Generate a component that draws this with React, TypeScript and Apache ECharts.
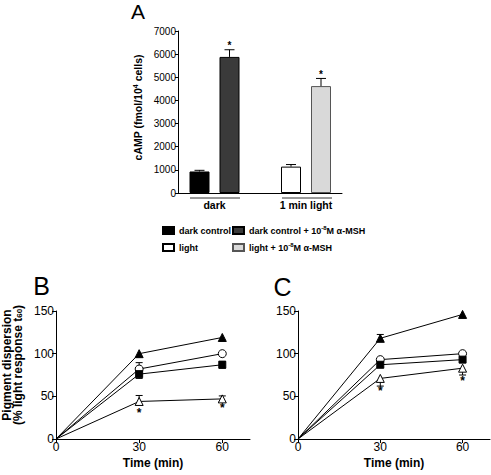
import React, { useEffect, useRef } from 'react';
import * as echarts from 'echarts';

const FONT = '"Liberation Sans", Arial, Helvetica, sans-serif';

// ---------- Panel A data ----------
const groupCategories = ['dark', '1 min light'];
const barNames = ['dark control', 'dark control + MSH', 'light', 'light + MSH'];
const legendLabels: Record<string, string> = {
  'dark control': 'dark control',
  'dark control + MSH': 'dark control + 10{sup|-8}M α-MSH',
  light: 'light',
  'light + MSH': 'light + 10{sup|-8}M α-MSH',
};
const barValues = [930, 5880, 1140, 4620];
const barErrors = [50, 310, 90, 330];
const barSignificant = [false, true, false, true];
const barColors = ['#000000', '#3a3a3a', '#ffffff', '#d9d9d9'];
const camp = { min: 0, max: 7000, step: 1000 };

// ---------- Panels B & C data (x = time in min) ----------
const timePoints = [0, 30, 60];
const timeTicks = [0, 30, 60];
const pigment = { min: 0, max: 150, step: 50 };

const bFilledTriangle = [0, 100, 119];
const bOpenCircle = [0, 82, 100];
const bFilledSquare = [0, 76, 87];
const bOpenTriangle = [0, 44, 47];
// [time, mean, low, high]
const bErrors = [
  [30, 82, 82, 89.5],
  [30, 76, 71, 76],
  [60, 87, 83, 91],
  [30, 44, 44, 51],
  [60, 47, 44, 50.5],
];
const bAsterisks = [
  [30, 31],
  [60, 36],
];

const cFilledTriangle = [0, 118, 146];
const cOpenCircle = [0, 93, 100];
const cFilledSquare = [0, 87, 93];
const cOpenTriangle = [0, 71, 83];
const cErrors = [
  [30, 118, 118, 122.5],
  [30, 71, 62, 71],
  [60, 83, 75, 83],
];
const cAsterisks = [
  [30, 56],
  [60, 68],
];

function pairs(ys: number[]) {
  return ys.map((y, i) => [timePoints[i], y]);
}

const lineStyles = [
  { symbol: 'triangle', size: 8, fill: '#000' },
  { symbol: 'circle', size: 8, fill: '#fff' },
  { symbol: 'rect', size: 7, fill: '#000' },
  { symbol: 'triangle', size: 8, fill: '#fff' },
];

function lineSeries(axis: number, sets: number[][]) {
  return sets.map((ys, k) => ({
    type: 'line',
    xAxisIndex: axis,
    yAxisIndex: axis,
    data: pairs(ys),
    symbol: (v: number[]) => (v[0] === 0 ? 'none' : lineStyles[k].symbol),
    symbolSize: lineStyles[k].size,
    showAllSymbol: true,
    z: 3,
    lineStyle: { color: '#000', width: 1 },
    itemStyle: { color: lineStyles[k].fill, borderColor: '#000', borderWidth: 1 },
    emphasis: { disabled: true },
    silent: true,
  }));
}

function errorSeries(axis: number, data: number[][]) {
  return {
    type: 'custom',
    xAxisIndex: axis,
    yAxisIndex: axis,
    z: 1,
    silent: true,
    data,
    encode: { x: 0, y: [1, 2, 3] },
    renderItem: (_p: any, api: any) => {
      const x = api.value(0);
      const m = api.value(1);
      const lo = api.value(2);
      const hi = api.value(3);
      const pLo = api.coord([x, lo]);
      const pHi = api.coord([x, hi]);
      const st = { stroke: '#000', lineWidth: 1 };
      const children: any[] = [
        { type: 'line', shape: { x1: pLo[0], y1: pLo[1], x2: pHi[0], y2: pHi[1] }, style: st },
      ];
      if (lo < m) children.push({ type: 'line', shape: { x1: pLo[0] - 3.5, y1: pLo[1], x2: pLo[0] + 3.5, y2: pLo[1] }, style: st });
      if (hi > m) children.push({ type: 'line', shape: { x1: pHi[0] - 3.5, y1: pHi[1], x2: pHi[0] + 3.5, y2: pHi[1] }, style: st });
      return { type: 'group', children };
    },
  };
}

function asteriskSeries(axis: number, data: number[][]) {
  return {
    type: 'custom',
    xAxisIndex: axis,
    yAxisIndex: axis,
    z: 4,
    silent: true,
    data,
    renderItem: (_p: any, api: any) => {
      const p = api.coord([api.value(0), api.value(1)]);
      return {
        type: 'text',
        x: p[0],
        y: p[1],
        style: { text: '*', align: 'center', verticalAlign: 'middle', fill: '#000', fontSize: 12, fontWeight: 'bold', fontFamily: FONT },
      };
    },
  };
}

const axisLineStyle = { show: true, lineStyle: { color: '#000', width: 1 } };
const plain = (v: number) => String(v);

function timeAxis(grid: number) {
  return {
    type: 'value',
    gridIndex: grid,
    min: 0,
    max: 70,
    axisLine: { ...axisLineStyle, onZero: false },
    axisTick: { show: true, length: 4, customValues: timeTicks, lineStyle: { color: '#000' } },
    axisLabel: { show: true, customValues: timeTicks, formatter: plain, margin: 2, fontSize: 12, color: '#000', fontFamily: FONT },
    splitLine: { show: false },
    name: 'Time (min)',
    nameLocation: 'middle',
    nameGap: 18,
    nameTextStyle: { fontSize: 12, fontWeight: 'bold', color: '#000', fontFamily: FONT },
  };
}

function pigmentAxis(grid: number) {
  return {
    type: 'value',
    gridIndex: grid,
    min: pigment.min,
    max: pigment.max,
    interval: pigment.step,
    axisLine: { ...axisLineStyle, onZero: false },
    axisTick: { show: true, length: 4, lineStyle: { color: '#000' } },
    axisLabel: { formatter: plain, margin: 2, fontSize: 12, color: '#000', fontFamily: FONT },
    splitLine: { show: false },
  };
}

export default function App() {
  const ref = useRef<HTMLDivElement>(null);

  useEffect(() => {
    if (!ref.current) return;
    const chart = echarts.init(ref.current, undefined, { renderer: 'svg' });

    const barSeries = barNames.map((name, i) => {
      const cat = i < 2 ? 0 : 1;
      const data = groupCategories.map((_, c) => (c === cat ? barValues[i] : '-'));
      return {
        type: 'bar',
        name,
        xAxisIndex: 1,
        yAxisIndex: 1,
        stack: i % 2 === 0 ? 'control' : 'msh',
        data,
        barWidth: 20,
        barGap: '50%',
        silent: true,
        itemStyle: { color: barColors[i], borderColor: i === 3 ? '#555' : '#000', borderWidth: 1 },
      };
    });

    const barErrorData = barValues.map((v, i) => [i < 2 ? 0 : 1, v, barErrors[i], i % 2, barSignificant[i] ? 1 : 0]);

    const barErrorSeries = {
      type: 'custom',
      xAxisIndex: 1,
      yAxisIndex: 1,
      z: 3,
      silent: true,
      data: barErrorData,
      encode: { x: 0, y: 1 },
      renderItem: (_p: any, api: any) => {
        const cat = api.value(0);
        const mean = api.value(1);
        const err = api.value(2);
        const slot = api.value(3);
        const sig = api.value(4);
        const base = api.coord([cat, mean]);
        const top = api.coord([cat, mean + err]);
        const x = base[0] + (slot ? 15 : -15);
        const st = { stroke: '#000', lineWidth: 1 };
        const children: any[] = [
          { type: 'line', shape: { x1: x, y1: base[1], x2: x, y2: top[1] }, style: st },
          { type: 'line', shape: { x1: x - 5, y1: top[1], x2: x + 5, y2: top[1] }, style: st },
        ];
        if (sig) {
          children.push({
            type: 'text',
            x,
            y: top[1] - 4,
            style: { text: '*', align: 'center', verticalAlign: 'middle', fill: '#000', fontSize: 10, fontWeight: 'bold', fontFamily: FONT },
          });
        }
        return { type: 'group', children };
      },
    };

    const legendCommon = {
      orient: 'vertical',
      icon: 'rect',
      itemWidth: 11,
      itemHeight: 7,
      itemGap: 6,
      selectedMode: false,
      padding: 0,
      formatter: (name: string) => legendLabels[name],
      textStyle: {
        fontSize: 9,
        fontWeight: 'bold',
        color: '#000',
        fontFamily: FONT,
        lineHeight: 11,
        rich: { sup: { fontSize: 6, fontWeight: 'bold', fontFamily: FONT, padding: [0, 0, 5, 0] } },
      },
    };

    const option: any = {
      animation: false,
      backgroundColor: '#fff',
      grid: [
        { left: 178, top: 31, width: 164, height: 162 },
        { left: 168.75, top: 31, width: 183, height: 162 },
        { left: 56, top: 311, width: 194, height: 128 },
        { left: 298, top: 311, width: 192, height: 128 },
      ],
      xAxis: [
        { type: 'value', gridIndex: 0, min: 0, max: 1, axisLine: axisLineStyle, axisTick: { show: false }, axisLabel: { show: false }, splitLine: { show: false } },
        {
          type: 'category',
          gridIndex: 1,
          data: groupCategories,
          axisLine: { show: false },
          axisTick: { show: false },
          axisLabel: { margin: 6.5, fontSize: 10.5, fontWeight: 'bold', color: '#000', fontFamily: FONT },
        },
        timeAxis(2),
        timeAxis(3),
      ],
      yAxis: [
        {
          type: 'value',
          gridIndex: 0,
          min: camp.min,
          max: camp.max,
          interval: camp.step,
          axisLine: axisLineStyle,
          axisTick: { show: true, length: 3, lineStyle: { color: '#000' } },
          axisLabel: { formatter: plain, margin: 2, fontSize: 10, color: '#000', fontFamily: FONT },
          splitLine: { show: false },
        },
        { type: 'value', gridIndex: 1, min: camp.min, max: camp.max, show: false, splitLine: { show: false } },
        pigmentAxis(2),
        pigmentAxis(3),
      ],
      legend: [
        { ...legendCommon, left: 162, top: 225, data: ['dark control', 'light'] },
        { ...legendCommon, left: 232, top: 225, data: ['dark control + MSH', 'light + MSH'] },
      ],
      graphic: [
        { type: 'text', x: 138, y: 11, style: { text: 'A', align: 'center', verticalAlign: 'middle', fontSize: 21, fill: '#000', fontFamily: FONT } },
        { type: 'text', x: 41.5, y: 286, style: { text: 'B', align: 'center', verticalAlign: 'middle', fontSize: 25, fill: '#000', fontFamily: FONT } },
        { type: 'text', x: 282.5, y: 287, style: { text: 'C', align: 'center', verticalAlign: 'middle', fontSize: 25, fill: '#000', fontFamily: FONT } },
        {
          type: 'text',
          x: 137.5,
          y: 107.5,
          rotation: Math.PI / 2,
          style: {
            text: 'cAMP (fmol/10{sup|4} cells)',
            align: 'center',
            verticalAlign: 'middle',
            fontSize: 10.5,
            fontWeight: 'bold',
            fill: '#000',
            fontFamily: FONT,
            rich: { sup: { fontSize: 7, fontWeight: 'bold', fontFamily: FONT, padding: [0, 0, 5, 0] } },
          },
        },
        {
          type: 'text',
          x: 12.3,
          y: 365,
          rotation: Math.PI / 2,
          style: {
            text: 'Pigment dispersion\n(% light response t{sub|60})',
            align: 'center',
            verticalAlign: 'middle',
            fontSize: 12,
            lineHeight: 10.5,
            fontWeight: 'bold',
            fill: '#000',
            fontFamily: FONT,
            rich: { sub: { fontSize: 8, fontWeight: 'bold', fontFamily: FONT, lineHeight: 10.5, padding: [4, 0, 0, 0] } },
          },
        },
        { type: 'line', shape: { x1: 190, y1: 198, x2: 240, y2: 198 }, style: { stroke: '#333', lineWidth: 1 } },
        { type: 'line', shape: { x1: 282, y1: 198, x2: 332, y2: 198 }, style: { stroke: '#333', lineWidth: 1 } },
      ],
      series: [
        ...barSeries,
        barErrorSeries,
        ...lineSeries(2, [bFilledTriangle, bOpenCircle, bFilledSquare, bOpenTriangle]),
        errorSeries(2, bErrors),
        asteriskSeries(2, bAsterisks),
        ...lineSeries(3, [cFilledTriangle, cOpenCircle, cFilledSquare, cOpenTriangle]),
        errorSeries(3, cErrors),
        asteriskSeries(3, cAsterisks),
      ],
    };

    chart.setOption(option);
    return () => chart.dispose();
  }, []);

  return <div ref={ref} style={{ position: 'fixed', left: 0, top: 0, width: 491, height: 475, background: '#fff' }} />;
}
